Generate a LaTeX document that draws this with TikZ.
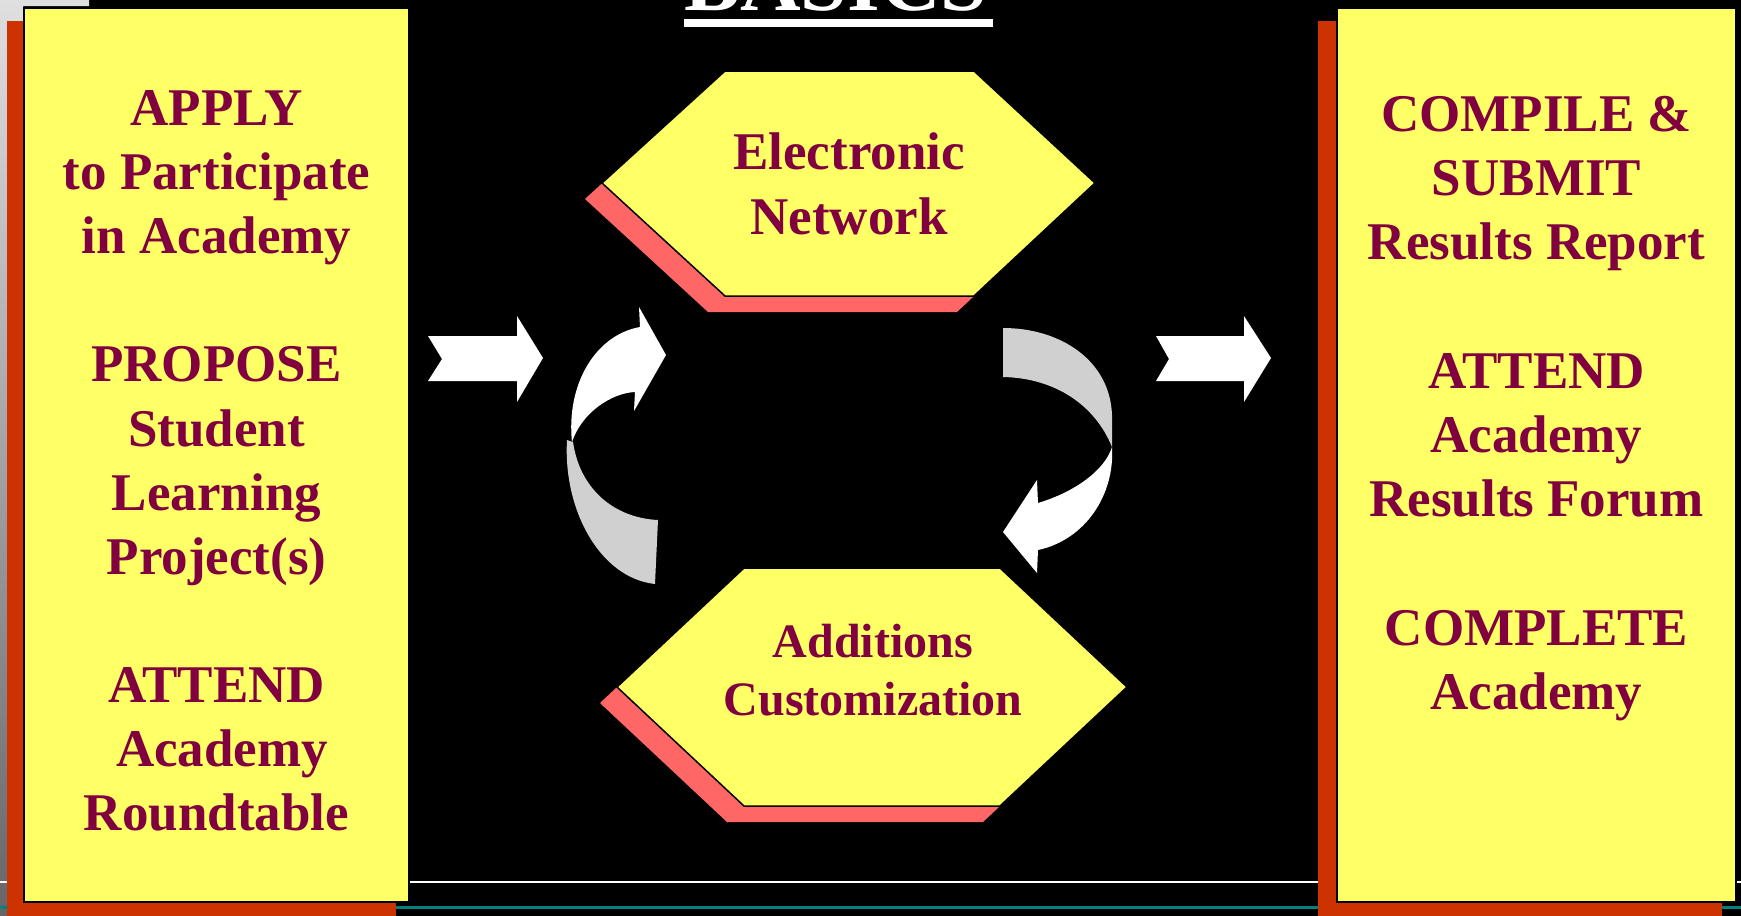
\documentclass[tikz,border=0pt]{standalone}
\usepackage{fontspec}
\setmainfont{Liberation Serif}
\definecolor{txtred}{RGB}{128,0,64}
\definecolor{boxyel}{RGB}{255,255,102}
\definecolor{shadred}{RGB}{204,51,0}
\definecolor{salmon}{RGB}{255,102,102}
\definecolor{arrgray}{RGB}{208,208,208}
\definecolor{teal}{RGB}{0,128,128}
\begin{document}
\begin{tikzpicture}[x=1pt,y=-1pt,
  txt/.style={inner sep=0pt, anchor=base, text=txtred, font=\bfseries\fontsize{53}{64}\selectfont},
  hxt/.style={inner sep=0pt, anchor=base, text=txtred, font=\bfseries\fontsize{48}{58}\selectfont},
  ybox/.style={fill=boxyel, draw=black, line width=2pt},
  rshadow/.style={fill=shadred},
  hexfill/.style={fill=boxyel, draw=black, line width=1.5pt, line join=miter},
  blockarrow/.style={fill=white},
  backface/.style={fill=arrgray}]
\useasboundingbox (0,0) rectangle (1741,916);
\clip (0,0) rectangle (1741,916);
% background
\fill[black] (0,0) rectangle (1741,916);
\fill[top color=gray!25, bottom color=gray!80!black] (0,0) -- (89,0) -- (89,6) -- (23,6) -- (23,21) -- (7,21) -- (7,916) -- (0,916) -- cycle;
% title
\node[inner sep=0pt, anchor=base, text=white, font=\bfseries\fontsize{84}{100}\selectfont] (title) at (836,10) {BASICS};
\fill[white] (684,19) rectangle (993,27);
% bottom lines
\draw[white, line width=2.5pt] (0,882) -- (1741,882);
\draw[teal, line width=3pt] (0,907) -- (1741,907);
% left box
\fill[rshadow] (7,21) rectangle (396,925);
\draw[ybox] (24,8) rectangle (409,902);
% right box
\fill[rshadow] (1318,21) rectangle (1722,925);
\draw[ybox] (1337,8) rectangle (1736,902);
% left texts
\node[txt] (l1) at (216.5,125.5) {APPLY};
\node[txt] (l2) at (216.5,189.6) {to Participate};
\node[txt] (l3) at (216.5,253.7) {in Academy};
\node[txt] (l4) at (216.5,381.9) {PROPOSE};
\node[txt] (l5) at (216.5,446) {Student};
\node[txt] (l6) at (216.5,510.1) {Learning};
\node[txt] (l7) at (216.5,574.2) {Project(s)};
\node[txt] (l8) at (216.5,702.4) {ATTEND};
\node[txt] (l9) at (222,766.5) {Academy};
\node[txt] (l10) at (216.5,830.6) {Roundtable};
% right texts
\node[txt] (r1) at (1536.5,131) {COMPILE \&};
\node[txt] (r2) at (1536.5,195.3) {SUBMIT};
\node[txt] (r3) at (1536.5,259.6) {Results Report};
\node[txt] (r4) at (1536.5,388.2) {ATTEND};
\node[txt] (r5) at (1536.5,452.5) {Academy};
\node[txt] (r6) at (1536.5,516.8) {Results Forum};
\node[txt] (r7) at (1536.5,645.4) {COMPLETE};
\node[txt] (r8) at (1536.5,709.7) {Academy};
% top hexagon
\fill[salmon] (585,199) -- (708,86) -- (957,86) -- (1078,199) -- (957,312) -- (708,312) -- cycle;
\draw[hexfill] (602,183) -- (725,71) -- (974,71) -- (1095,183) -- (974,296) -- (725,296) -- cycle;
\node[txt] (h1) at (849,169) {Electronic};
\node[txt] (h2) at (849,234) {Network};
% bottom hexagon
\fill[salmon] (600,703) -- (727,584) -- (983,584) -- (1110,703) -- (983,822) -- (727,822) -- cycle;
\draw[hexfill] (617,687) -- (744,568) -- (1000,568) -- (1127,687) -- (1000,806) -- (744,806) -- cycle;
\node[hxt] (h3) at (873,657) {Additions};
\node[hxt] (h4) at (873,715) {Customization};
% straight block arrows
\fill[blockarrow] (428,336) -- (517,336) -- (517,316) -- (543,358) -- (517,402) -- (517,381) -- (428,381) -- (442,359) -- cycle;
\fill[blockarrow] (1156,336) -- (1244,336) -- (1244,316) -- (1271,358) -- (1244,402) -- (1244,381) -- (1156,381) -- (1169,359) -- cycle;
% left curved arrow
\fill[backface] (567,440) .. controls (563,510) and (600,578) .. (655,584) -- (658,520) .. controls (615,518) and (580,490) .. (573,442) -- cycle;
\fill[blockarrow] (572,442) .. controls (566,385) and (595,335) .. (640,327) -- (639,307) -- (666,355) -- (634,411) -- (635,392) .. controls (612,393) and (582,412) .. (572,442) -- cycle;
% right curved arrow
\fill[backface] (1003,328) .. controls (1060,328) and (1110,360) .. (1112,415) -- (1112,447) .. controls (1095,405) and (1055,378) .. (1003,377) -- cycle;
\fill[blockarrow] (1112,447) .. controls (1115,495) and (1085,540) .. (1038,550) -- (1037,573) -- (1003,532) -- (1037,480) -- (1038,503) .. controls (1075,492) and (1105,470) .. (1112,447) -- cycle;
\end{tikzpicture}
\end{document}
